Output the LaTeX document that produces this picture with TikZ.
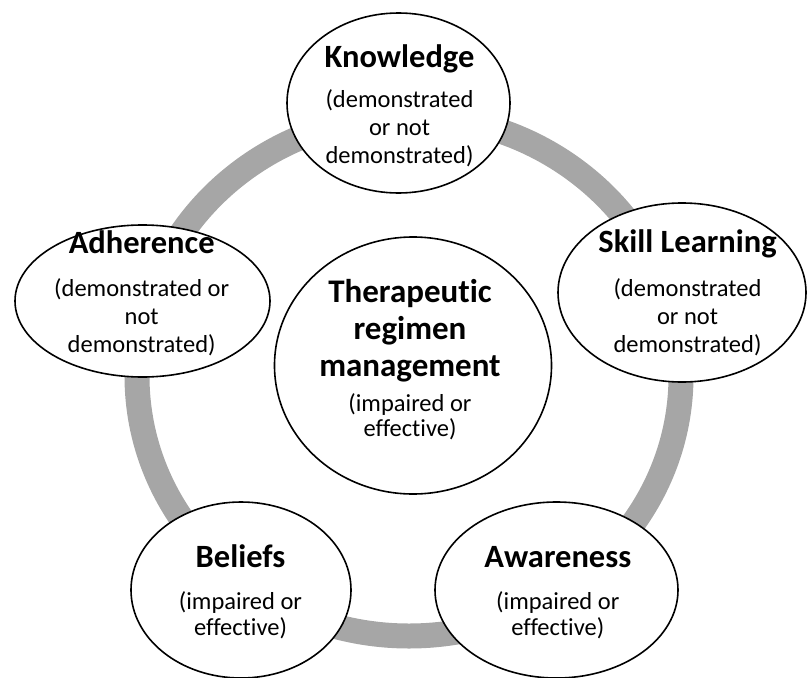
\documentclass[tikz,border=0pt]{standalone}
\usepackage{fontspec}
\setmainfont{Carlito}[Ligatures={NoCommon}]
\usetikzlibrary{shapes.geometric}
\definecolor{ringgray}{RGB}{166,166,166}
\begin{document}
\begin{tikzpicture}[x=1pt,y=-1pt,
  topic/.style={draw=black, line width=1.6pt, fill=white, ellipse, inner sep=0pt},
  % multi-line labels are anchored at the baseline of their last line
  heading/.style={anchor=base, align=center, inner sep=0pt,
    font=\bfseries\fontsize{32.5}{37}\selectfont},
  mainheading/.style={heading, font=\bfseries\fontsize{33}{37}\selectfont},
  status/.style={anchor=base, align=center, inner sep=0pt,
    font=\fontsize{24.5}{28}\selectfont},
  statusb/.style={status, font=\fontsize{24.5}{25.5}\selectfont}]
\useasboundingbox (0,0) rectangle (808,677);

% the cycle ring behind the topics
\draw[ringgray, line width=25pt] (409,376) ellipse [x radius=272pt, y radius=260pt];

% topic ellipses
\node[topic, minimum width=223pt, minimum height=180pt] (know) at (398.5,103) {};
\node[topic, minimum width=248pt, minimum height=179pt] (skill) at (682,292.5) {};
\node[topic, minimum width=243pt, minimum height=176pt] (aware) at (556.5,590) {};
\node[topic, minimum width=220pt, minimum height=176pt] (belief) at (241,590) {};
\node[topic, minimum width=255pt, minimum height=152pt] (adher) at (142.5,301) {};
\node[topic, minimum width=277pt, minimum height=257pt] (regimen) at (413,365.5) {};

% labels
\node[heading] (knowT) at (399.5,67) {Knowledge};
\node[status] (knowS) at (399.5,163) {(demonstrated\\or not\\demonstrated)};

\node[heading] (skillT) at (687.5,252) {Skill Learning};
\node[status] (skillS) at (687.5,352) {(demonstrated\\or not\\demonstrated)};

\node[heading] (awareT) at (557.8,567.7) {Awareness};
\node[statusb] (awareS) at (557.8,635) {(impaired or\\effective)};

\node[heading] (beliefT) at (240.5,567.7) {Beliefs};
\node[statusb] (beliefS) at (240.5,635) {(impaired or\\effective)};

\node[heading] (adherT) at (141.7,253) {Adherence};
\node[status] (adherS) at (141.7,352) {(demonstrated or\\not\\demonstrated)};

\node[mainheading] (regT) at (410,376.7) {Therapeutic\\regimen\\management};
\node[statusb] (regS) at (410,436.7) {(impaired or\\effective)};
\end{tikzpicture}
\end{document}
